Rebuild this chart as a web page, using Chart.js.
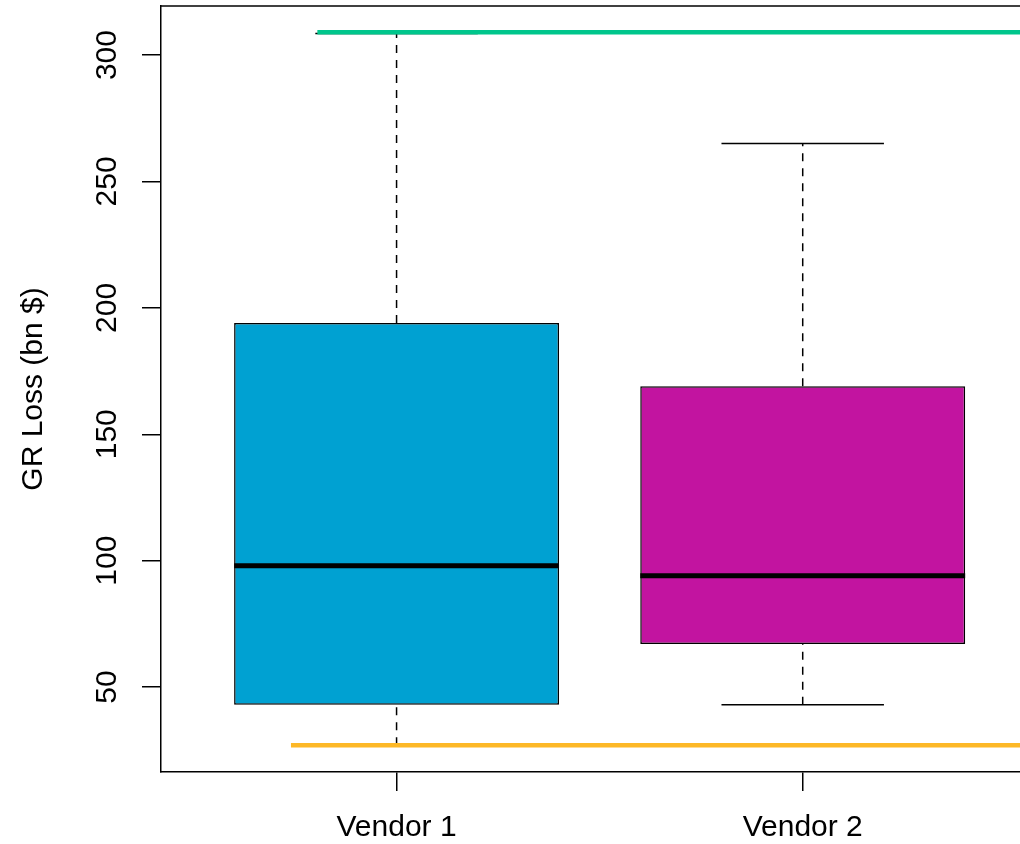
<!DOCTYPE html>
<html>
<head>
<meta charset="utf-8">
<script src="https://cdn.jsdelivr.net/npm/chart.js@4"></script>
<style>
  html, body { margin: 0; padding: 0; background: #fff; overflow: hidden; }
  #wrap { width: 1020px; height: 844px; }
</style>
</head>
<body>
<div id="wrap"><canvas id="chart" width="1020" height="844"></canvas></div>
<script>
// Box plot data
const vendors = ['Vendor 1', 'Vendor 2'];
const lowerWhisker = [27, 43];
const lowerQuartile = [43, 67];
const medians = [98, 94];
const upperQuartile = [194, 169];
const upperWhisker = [308.5, 265];
const boxColors = ['#00A1D2', '#C214A0'];
const yTicks = [50, 100, 150, 200, 250, 300];
const upperLimit = 309;
const lowerLimit = 27;

Chart.defaults.font.family = '"Liberation Sans", Arial, sans-serif';
Chart.defaults.color = '#000';

// turn [x0, x1, y0, y1] pieces into one broken line
function segments(list) {
  const pts = [];
  list.forEach(([x0, x1, y0, y1]) => {
    pts.push({ x: x0, y: y0 }, { x: x1, y: y1 }, { x: x1, y: null });
  });
  return pts;
}

const medianLines = segments(vendors.map((v, i) => [i + 0.6, i + 1.4, medians[i], medians[i]]));
const capLines = segments(
  vendors.flatMap((v, i) => [
    [i + 0.8, i + 1.2, lowerWhisker[i], lowerWhisker[i]],
    [i + 0.8, i + 1.2, upperWhisker[i], upperWhisker[i]],
  ])
);
const whiskerLines = segments(
  vendors.flatMap((v, i) => [
    [i + 1, i + 1, lowerWhisker[i], lowerQuartile[i]],
    [i + 1, i + 1, upperQuartile[i], upperWhisker[i]],
  ])
);

const lineBase = {
  type: 'line',
  borderColor: '#000',
  pointRadius: 0,
  spanGaps: false,
  borderCapStyle: 'butt',
  fill: false,
};

const frameTop = {
  id: 'frameTop',
  afterDraw(chart) {
    const { ctx, chartArea } = chart;
    ctx.save();
    ctx.strokeStyle = '#000';
    ctx.lineWidth = 1.5;
    ctx.beginPath();
    ctx.moveTo(chartArea.left, chartArea.top);
    ctx.lineTo(chartArea.right, chartArea.top);
    ctx.stroke();
    ctx.restore();
  },
};

new Chart(document.getElementById('chart').getContext('2d'), {
  type: 'bar',
  data: {
    datasets: [
      {
        ...lineBase,
        order: 0,
        borderColor: '#00C68C',
        borderWidth: 4.5,
        data: [{ x: 0.805, y: upperLimit }, { x: 3, y: upperLimit }],
      },
      {
        ...lineBase,
        order: 0,
        borderColor: '#FDB827',
        borderWidth: 4.5,
        data: [{ x: 0.74, y: lowerLimit }, { x: 3, y: lowerLimit }],
      },
      { ...lineBase, order: 1, borderWidth: 5, data: medianLines },
      { ...lineBase, order: 2, borderWidth: 1.5, data: capLines },
      { ...lineBase, order: 2, borderWidth: 1.5, borderDash: [8, 7], data: whiskerLines },
      {
        type: 'bar',
        order: 3,
        data: vendors.map((v, i) => ({ x: i + 1, y: [lowerQuartile[i], upperQuartile[i]] })),
        backgroundColor: boxColors,
        borderColor: '#000',
        borderWidth: 1.5,
        borderSkipped: false,
        barPercentage: 0.8,
        categoryPercentage: 1,
      },
    ],
  },
  options: {
    responsive: false,
    animation: false,
    layout: { padding: { top: 6, left: 0, right: 0, bottom: 0 } },
    plugins: {
      legend: { display: false },
      tooltip: { enabled: false },
    },
    scales: {
      x: {
        type: 'linear',
        min: 0.42,
        max: 2.535,
        offset: false,
        grid: { display: true, drawOnChartArea: false, offset: false, tickLength: 19, color: '#000', lineWidth: 1.5 },
        border: { display: true, color: '#000', width: 1.5 },
        ticks: {
          font: { size: 30 },
          padding: 19,
          maxRotation: 0,
          callback: (value) => vendors[value - 1],
        },
        afterBuildTicks: (scale) => {
          scale.ticks = vendors.map((v, i) => ({ value: i + 1 }));
        },
        afterFit: (scale) => {
          scale.height = 72;
          scale.paddingLeft = 0;
          scale.paddingRight = 0;
        },
      },
      y: {
        type: 'linear',
        min: 16.4,
        max: 319.4,
        grid: { display: true, drawOnChartArea: false, tickLength: 19, color: '#000', lineWidth: 1.5 },
        border: { display: true, color: '#000', width: 1.5 },
        ticks: {
          font: { size: 30 },
          minRotation: 90,
          maxRotation: 90,
          crossAlign: 'center',
          padding: 9,
        },
        afterBuildTicks: (scale) => {
          scale.ticks = yTicks.map((v) => ({ value: v }));
        },
        afterFit: (scale) => {
          scale.width = 161;
          scale.paddingTop = 0;
          scale.paddingBottom = 0;
        },
        title: {
          display: true,
          text: 'GR Loss (bn $)',
          font: { size: 30 },
          padding: { top: 16, bottom: 0 },
        },
      },
    },
  },
  plugins: [frameTop],
});
</script>
</body>
</html>
